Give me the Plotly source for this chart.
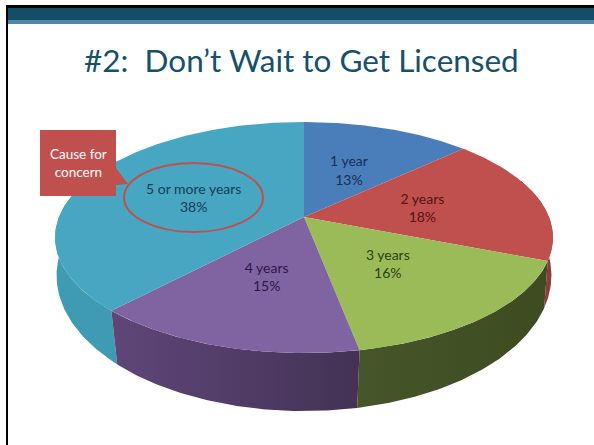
import numpy as np
import plotly.graph_objects as go

categories = ["1 year", "2 years", "3 years", "4 years", "5 or more years"]
values = [13, 18, 16, 15, 38]

top_colors = ["#4a7ebb", "#c0504d", "#9bbb59", "#8064a2", "#47a7c3"]
wall_left = ["#3a6595", "#8c3b39", "#46552a", "#5f4679", "#3f9ab3"]
wall_right = ["#3a6595", "#8c3b39", "#3e4b20", "#433254", "#3f9ab3"]
text_colors = ["#173056", "#521414", "#2a4012", "#2b1846", "#143c55"]

W, H = 594, 445
CX, TOP_Y, BOT_Y = 304, 217, 256.4
BX_TOP, BX_BOT, AY_TOP, AY_BOT = 245, 245, 111.9, 133
K_TOP, K_BOT = 0.1775, 0.14
LABEL_DROP = 2.5


def project(theta, r, level="top"):
    u, v = r * np.sin(theta), r * np.cos(theta)
    if level == "top":
        d = 1 + K_TOP * v
        return CX + BX_TOP * u / d, TOP_Y - AY_TOP * v / d
    d = 1 + K_BOT * v
    return CX + BX_BOT * u / d, BOT_Y - AY_BOT * v / d


edges = np.cumsum([0] + values) / sum(values) * 2 * np.pi
fig = go.Figure()

# side walls
for i in np.argsort([-abs(np.pi - (edges[j] + edges[j + 1]) / 2) for j in range(len(values))]):
    a, b = max(edges[i], np.radians(70)), min(edges[i + 1], np.radians(300))
    if b <= a:
        continue
    th = np.linspace(a, b, 80)
    xt, yt = project(th, 1, "top")
    xb, yb = project(th, 1, "bot")
    fig.add_trace(go.Scatter(
        x=np.r_[xt, xb[::-1], xt[0]], y=np.r_[yt, yb[::-1], yt[0]],
        mode="lines", line=dict(width=0), fill="toself",
        fillgradient=dict(type="horizontal",
                          colorscale=[[0, wall_left[i]], [1, wall_right[i]]]),
        hoverinfo="skip", showlegend=False))

# top faces
for i in range(len(values)):
    th = np.linspace(edges[i], edges[i + 1], 120)
    x, y = project(th, 1, "top")
    fig.add_trace(go.Scatter(
        x=np.r_[CX, x, CX], y=np.r_[TOP_Y, y, TOP_Y],
        mode="lines", line=dict(width=0), fill="toself", fillcolor=top_colors[i],
        hoverinfo="skip", showlegend=False))

# data labels
mid = (edges[:-1] + edges[1:]) / 2
lx, ly = project(mid, 0.5, "top")
fig.add_trace(go.Scatter(
    x=lx, y=ly + LABEL_DROP, mode="text",
    text=[f"{c}<br>{v}%" for c, v in zip(categories, values)],
    textposition="middle center",
    textfont=dict(family="Lato", size=14, color=text_colors),
    hoverinfo="skip", showlegend=False))

shapes = [
    dict(type="rect", x0=6, x1=W, y0=5, y1=8, fillcolor="#000000", line_width=0, layer="below"),
    dict(type="rect", x0=6, x1=8, y0=5, y1=H, fillcolor="#000000", line_width=0, layer="below"),
    dict(type="rect", x0=8, x1=W, y0=8, y1=20, fillcolor="#134e66", line_width=0, layer="below"),
    dict(type="rect", x0=8, x1=W, y0=20, y1=24, fillcolor="#4f87ab", line_width=0, layer="below"),
    dict(type="circle", x0=124, x1=263, y0=163, y1=232, line=dict(color="#c0504d", width=2), layer="above"),
    dict(type="path", path="M40,130 L116,130 L116,168 L128,184 L116,185 L116,196 L40,196 Z",
         fillcolor="#c0504d", line_width=0, layer="above"),
]

annotations = [
    dict(x=301.5, y=60, text="#2:  Don’t Wait to Get Licensed", showarrow=False,
         font=dict(family="Lato", size=31.5, color="#17506a")),
    dict(x=78, y=163, text="Cause for<br>concern", showarrow=False,
         font=dict(family="Lato", size=13.5, color="#ffffff")),
]

fig.update_layout(
    width=W, height=H, margin=dict(l=0, r=0, t=0, b=0),
    paper_bgcolor="#ffffff", plot_bgcolor="#ffffff",
    xaxis=dict(range=[0, W], visible=False, fixedrange=True),
    yaxis=dict(range=[H, 0], visible=False, fixedrange=True),
    shapes=shapes, annotations=annotations, showlegend=False,
)
fig.write_html("out.html", config={"displayModeBar": False},
               post_script="document.body.style.margin='0';document.body.style.overflow='hidden';")
